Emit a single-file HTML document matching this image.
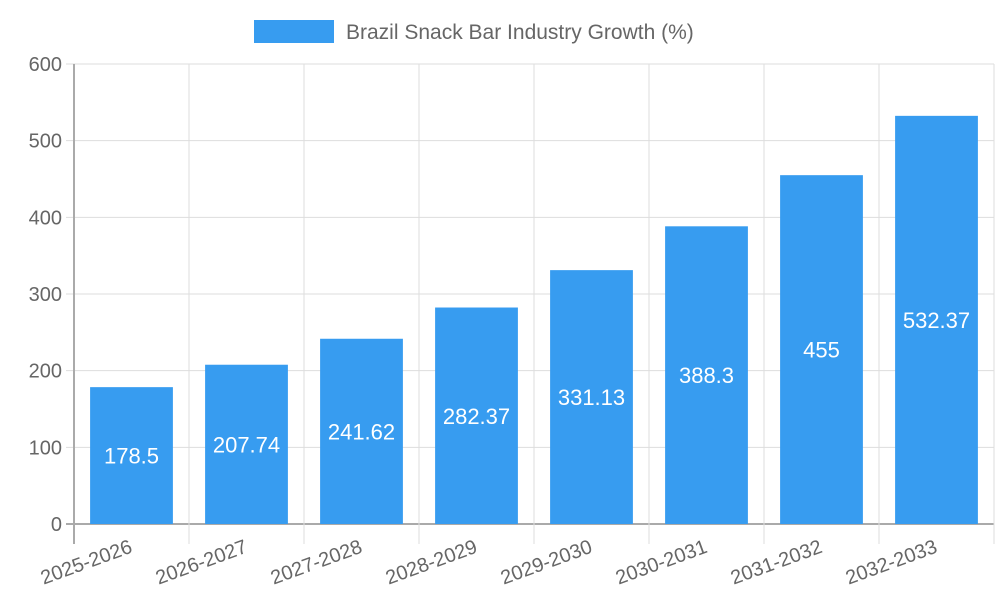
<!DOCTYPE html>
<html><head><meta charset="utf-8"><style>
body{margin:0;background:#fff;}
svg text{font-family:"Liberation Sans",sans-serif;}
</style></head><body>
<svg id="chart" width="1000" height="600" xmlns="http://www.w3.org/2000/svg">
<rect x="254" y="20" width="80" height="23" fill="#379cf0"/>
<text x="346" y="39" font-size="21" fill="#666">Brazil Snack Bar Industry Growth (%)</text>
<g id="grid"></g><g id="bars"></g><g id="labels"></g>
</svg>
<script>
const categories=["2025-2026","2026-2027","2027-2028","2028-2029","2029-2030","2030-2031","2031-2032","2032-2033"];
const values=[178.5,207.74,241.62,282.37,331.13,388.3,455,532.37];
const valueLabels=["178.5","207.74","241.62","282.37","331.13","388.3","455","532.37"];
const yTicks=[0,100,200,300,400,500,600];
const X0=74,X1=994,Y0=524,Y1=64,YMAX=600;
const bw=(X1-X0)/categories.length;
const y=v=>Y0-(v/YMAX)*(Y0-Y1);
const xc=i=>X0+bw*(i+0.5);
const NS="http://www.w3.org/2000/svg";
function mk(t,a,p){const e=document.createElementNS(NS,t);for(const k in a)e.setAttribute(k,a[k]);p.appendChild(e);return e;}
const grid=document.getElementById('grid'),bars=document.getElementById('bars'),labels=document.getElementById('labels');
yTicks.forEach(t=>{
 const l=mk('line',{x1:X0-8,x2:X1,y1:y(t),y2:y(t),stroke:t===0?'#aaa':'#ddd','stroke-width':t===0?2:1},grid);
 
 
 const tx=mk('text',{x:X0-12,y:y(t)+7,'text-anchor':'end','font-size':20,fill:'#666'},grid);
 tx.textContent=t;
 
 
});
for(let i=0;i<=categories.length;i++){
 const gx=X0+bw*i;
 const l=mk('line',{x1:gx,x2:gx,y1:Y1,y2:Y0+20,stroke:i===0?'#aaa':'#ddd','stroke-width':i===0?2:1},grid);
 
 
}
categories.forEach((c,i)=>{
 const w=bw*0.72;
 const r=mk('rect',{x:xc(i)-w/2,y:y(values[i]),width:w,height:Y0-y(values[i]),fill:'#379cf0'},bars);
 
 
 const v=mk('text',{x:xc(i),y:(y(values[i])+Y0)/2+8,'text-anchor':'middle','font-size':22,fill:'#fff'},labels);
 v.textContent=valueLabels[i];
 
 
 const ax=xc(i)+2,ay=552;
 const t=mk('text',{x:ax,y:ay,'text-anchor':'end','font-size':20,fill:'#666',transform:`rotate(-20 ${ax} ${ay})`},labels);
 t.textContent=c;
 
 
});
</script>
</body></html>
